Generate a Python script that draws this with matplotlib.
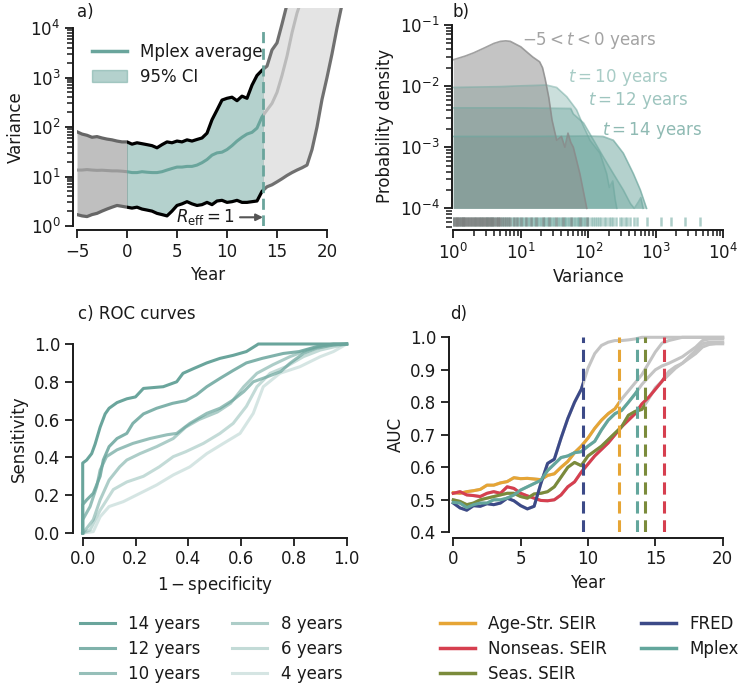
import numpy as np
import matplotlib.pyplot as plt
import matplotlib.transforms as mtransforms
from matplotlib.lines import Line2D
from matplotlib.patches import Patch, Rectangle

plt.rcParams['font.family'] = ['DejaVu Sans']
plt.rcParams['font.size'] = 12
plt.rcParams['text.color'] = '#1a1a1a'
plt.rcParams['axes.labelcolor'] = '#1a1a1a'
plt.rcParams['xtick.color'] = '#1a1a1a'
plt.rcParams['ytick.color'] = '#1a1a1a'

TEAL = '#6aa59c'
INK = '#1a1a1a'

# ---- a) variance through time ----
var_years = [-5, -4.5, -4, -3.5, -3, -2.5, -2, -1.5, -1, -0.5, 0, 0.5, 1, 1.5, 2, 2.5,
             3, 3.5, 4, 4.5, 5, 5.5, 6, 6.5, 7, 7.5, 8, 8.5, 9, 9.5, 10, 10.5, 11, 11.5,
             12, 12.5, 13, 13.5, 14, 14.5, 15, 15.5, 16, 16.5, 17, 17.5, 18, 18.5, 19,
             19.5, 20, 20.5, 21, 21.5]
var_upper = [80, 72, 68, 62, 64, 60, 57, 55, 52, 50, 50, 45, 48, 46, 44, 42,
             38, 44, 50, 48, 52, 50, 55, 52, 56, 60, 75, 140, 220, 350, 380, 400, 340, 420,
             380, 700, 1100, 1400, 1700, 3600, 5000, 12000, 3e4, 6e4, 1e5, 2e5, 3e5, 5e5, 8e5,
             1e6, 1.5e6, 2e6, 3e6, 4e6]
var_mean = [13.5, 13.5, 13.8, 13.5, 13.3, 13.4, 13.2, 13.0, 13.0, 12.8, 12.5, 12.0, 12.0, 12.5, 12.2, 12.0,
            12.0, 12.5, 13.5, 14.5, 15.5, 15.5, 16, 16, 17, 19, 22, 27, 30, 31, 35, 42, 52, 62,
            72, 78, 95, 160, 220, 300, 500, 1100, 2700, 8000, 2e4, 4e4, 8e4, 1.5e5, 3e5,
            5e5, 8e5, 1e6, 1.5e6, 2e6]
var_lower = [1.7, 1.6, 1.55, 1.7, 1.8, 2.0, 2.2, 2.4, 2.6, 2.5, 2.4, 2.3, 2.4, 2.2, 2.1, 2.0,
             1.8, 1.7, 1.6, 2.0, 2.6, 2.8, 3.1, 2.8, 2.6, 2.7, 3.0, 2.7, 3.2, 3.3, 3.0, 3.1, 3.3, 3.0,
             3.0, 3.1, 3.2, 5.0, 6.2, 6.8, 7.8, 9.0, 10.5, 12, 13.5, 15, 17, 35, 100,
             360, 1000, 3000, 10000, 3e4]
t_start = 0
t_reff = 13.6

# ---- b) distributions of variance ----
kde_pre_x = [1, 1.5, 2, 3, 4, 5, 6, 7, 8, 10, 12, 15, 19, 21, 23, 26, 29, 34, 40, 45, 50, 55, 60, 75, 95]
kde_pre_y = [0.027, 0.031, 0.035, 0.043, 0.05, 0.054, 0.055, 0.054, 0.05, 0.044, 0.037, 0.030, 0.025,
             0.02, 0.013, 0.0065, 0.0028, 0.0013, 0.0015, 0.001, 0.0017, 0.0012, 0.001, 0.00037, 0.0001]
kde10_x = [1, 5, 10, 24, 34, 48, 67, 85, 106, 149, 187, 205, 230, 250, 265]
kde10_y = [0.0095, 0.0098, 0.0101, 0.0104, 0.0095, 0.0067, 0.0041, 0.0022, 0.0013, 0.0008, 0.00037,
           0.00022, 0.00028, 0.00014, 0.0001]
kde12_x = [1, 10, 55, 60, 85, 120, 166, 235, 330, 420, 480, 560, 600, 650]
kde12_y = [0.0044, 0.0044, 0.0043, 0.0035, 0.0025, 0.0013, 0.0007, 0.00037, 0.0002, 0.00012, 0.0001,
           0.00013, 0.00015, 0.0001]
kde14_x = [1, 10, 100, 165, 235, 330, 465, 590, 730]
kde14_y = [0.0015, 0.0015, 0.00152, 0.0015, 0.0013, 0.0008, 0.00037, 0.0002, 0.0001]
rug_pre = [1.0, 1.03, 1.06, 1.09, 1.12, 1.15, 1.18, 1.21, 1.25, 1.29, 1.33, 1.37, 1.41, 1.45, 1.5,
           1.55, 1.6, 1.65, 1.7, 1.76, 1.82, 1.88, 1.94, 2.0, 2.07, 2.14, 2.21, 2.29, 2.37, 2.45, 2.54,
           2.63, 2.72, 2.82, 2.92, 3.03, 3.14, 3.26, 3.38, 3.5, 3.63, 3.77, 3.91, 4.06, 4.22, 4.4,
           4.6, 4.8, 5.0, 5.3, 5.6, 6.0, 6.5, 7.0, 7.8, 8.8, 10, 12, 14, 17, 21, 26, 33, 42, 55, 75, 95]
rug_post = [1.0, 1.1, 1.2, 1.3, 1.4, 1.5, 1.65, 1.8, 2.0, 2.2, 2.4, 2.6, 2.8, 3.0, 3.2, 3.4, 3.6,
            3.8, 4.0, 4.3, 4.6, 4.9, 5.2, 5.5, 5.8, 6.1, 6.4, 6.8, 7.2, 7.6, 8.0, 8.4, 8.8, 9.3, 9.8,
            10.3, 10.8, 11.4, 12, 12.6, 13.3, 14, 14.7, 15.5, 16.3, 17.2, 18.1, 19, 20, 21, 22, 23.2,
            24.4, 25.7, 27, 28.4, 30, 31.5, 33, 35, 37, 39, 41, 43, 45, 47.5, 50, 52.5, 55, 58, 61,
            64, 67, 70, 74, 78, 82, 86, 90, 95, 100, 110, 118, 126, 134, 145, 156, 170, 185, 200, 215,
            235, 255, 295, 320, 350, 380, 420, 470, 525, 750, 1200, 1700, 2700, 4500]

# ---- c) ROC curves ----
roc_labels = ['14 years', '12 years', '10 years', '8 years', '6 years', '4 years']
roc_alpha = [1.0, 0.85, 0.7, 0.55, 0.4, 0.28]
roc_fpr = [
    [0, 0, 0.015, 0.034, 0.047, 0.066, 0.085, 0.10, 0.13, 0.167, 0.20, 0.23, 0.305, 0.356, 0.38,
     0.42, 0.47, 0.52, 0.57, 0.62, 0.66, 0.665, 1.0],
    [0, 0, 0.015, 0.04, 0.066, 0.078, 0.10, 0.13, 0.167, 0.19, 0.23, 0.28, 0.34, 0.39, 0.43, 0.47,
     0.52, 0.57, 0.62, 0.68, 0.76, 0.82, 0.886, 0.95, 1.0],
    [0, 0, 0.028, 0.053, 0.066, 0.09, 0.13, 0.19, 0.255, 0.32, 0.356, 0.406, 0.47, 0.52, 0.57, 0.61,
     0.646, 0.70, 0.75, 0.785, 0.836, 0.886, 0.95, 1.0],
    [0, 0.01, 0.04, 0.066, 0.10, 0.14, 0.167, 0.217, 0.28, 0.343, 0.39, 0.44, 0.51, 0.56, 0.61, 0.66,
     0.72, 0.785, 0.85, 0.91, 1.0],
    [0, 0.028, 0.066, 0.116, 0.167, 0.23, 0.29, 0.343, 0.39, 0.457, 0.52, 0.57, 0.62, 0.66, 0.71,
     0.77, 0.836, 0.90, 1.0],
    [0, 0.04, 0.066, 0.10, 0.154, 0.217, 0.28, 0.343, 0.406, 0.47, 0.533, 0.596, 0.646, 0.684, 0.747,
     0.823, 0.90, 0.95, 1.0],
]
roc_tpr = [
    [0, 0.37, 0.386, 0.42, 0.47, 0.56, 0.63, 0.66, 0.69, 0.71, 0.72, 0.765, 0.774, 0.80, 0.845,
     0.87, 0.90, 0.924, 0.94, 0.96, 0.995, 1.0, 1.0],
    [0, 0.15, 0.175, 0.21, 0.30, 0.386, 0.457, 0.50, 0.527, 0.58, 0.63, 0.66, 0.686, 0.70, 0.73, 0.774,
     0.818, 0.86, 0.90, 0.924, 0.95, 0.96, 0.986, 1.0, 1.0],
    [0, 0.07, 0.14, 0.245, 0.333, 0.404, 0.44, 0.474, 0.50, 0.52, 0.527, 0.58, 0.633, 0.66, 0.704, 0.748,
     0.80, 0.827, 0.854, 0.898, 0.95, 0.977, 0.995, 1.0],
    [0, 0.016, 0.07, 0.175, 0.28, 0.35, 0.386, 0.42, 0.457, 0.50, 0.56, 0.60, 0.64, 0.686, 0.774, 0.845,
     0.89, 0.933, 0.968, 0.99, 1.0],
    [0, 0.016, 0.12, 0.23, 0.27, 0.30, 0.35, 0.404, 0.43, 0.474, 0.527, 0.58, 0.67, 0.774, 0.845,
     0.88, 0.933, 0.968, 1.0],
    [0, 0.007, 0.086, 0.14, 0.166, 0.21, 0.254, 0.307, 0.35, 0.42, 0.474, 0.527, 0.633, 0.774, 0.845,
     0.88, 0.933, 0.96, 1.0],
]

# ---- d) AUC through time ----
auc_years = np.arange(0, 20.01, 0.5)
models = ['Age-Str. SEIR', 'Nonseas. SEIR', 'Seas. SEIR', 'FRED', 'Mplex']
model_colors = ['#e6a535', '#d63f4f', '#7b8b3b', '#3c4a88', '#63a69c']
detect_year = [12.27, 15.61, 14.25, 9.6, 13.63]
auc = [
    [0.522, 0.52, 0.525, 0.528, 0.532, 0.545, 0.545, 0.552, 0.556, 0.568, 0.565, 0.566, 0.564, 0.562,
     0.575, 0.58, 0.60, 0.618, 0.645, 0.665, 0.69, 0.72, 0.745, 0.765, 0.78, 0.81, 0.835, 0.86, 0.885,
     0.92, 0.955, 0.982, 0.99, 0.995, 1.0, 1.0, 1.0, 1.0, 1.0, 1.0, 1.0],
    [0.52, 0.525, 0.515, 0.513, 0.51, 0.52, 0.525, 0.52, 0.54, 0.535, 0.52, 0.512, 0.505, 0.498, 0.497,
     0.50, 0.515, 0.54, 0.555, 0.585, 0.61, 0.635, 0.655, 0.675, 0.70, 0.725, 0.745, 0.765, 0.795,
     0.815, 0.84, 0.865, 0.895, 0.91, 0.92, 0.94, 0.96, 0.98, 0.985, 0.985, 0.985],
    [0.50, 0.495, 0.485, 0.49, 0.50, 0.505, 0.51, 0.515, 0.52, 0.52, 0.51, 0.505, 0.518, 0.52, 0.525,
     0.54, 0.57, 0.60, 0.615, 0.605, 0.635, 0.65, 0.665, 0.685, 0.705, 0.725, 0.76, 0.772, 0.778,
     0.81, 0.845, 0.865, 0.885, 0.905, 0.92, 0.935, 0.95, 0.97, 0.978, 0.98, 0.98],
    [0.49, 0.475, 0.468, 0.482, 0.48, 0.488, 0.485, 0.49, 0.505, 0.497, 0.482, 0.472, 0.48, 0.55,
     0.612, 0.625, 0.69, 0.75, 0.80, 0.84, 0.905, 0.95, 0.975, 0.985, 0.99, 0.99, 0.992, 0.995, 1.0,
     1.0, 1.0, 1.0, 1.0, 1.0, 1.0, 1.0, 1.0, 1.0, 1.0, 1.0, 1.0],
    [0.492, 0.49, 0.476, 0.485, 0.49, 0.49, 0.50, 0.50, 0.505, 0.515, 0.53, 0.54, 0.55, 0.56, 0.59,
     0.61, 0.63, 0.635, 0.645, 0.648, 0.665, 0.68, 0.715, 0.745, 0.765, 0.775, 0.80, 0.826, 0.855,
     0.878, 0.90, 0.912, 0.92, 0.93, 0.94, 0.955, 0.97, 0.99, 0.995, 0.995, 0.995],
]

W, H = 738, 685
fig = plt.figure(figsize=(W / 100, H / 100), dpi=100)


def px_axes(l, t, r, b):
    return fig.add_axes([l / W, 1 - b / H, (r - l) / W, (b - t) / H])


def style(ax, left_off, bottom_off, xb, yb):
    for s in ['top', 'right']:
        ax.spines[s].set_visible(False)
    ax.spines['left'].set_position(('outward', left_off))
    ax.spines['bottom'].set_position(('outward', bottom_off))
    ax.spines['left'].set_bounds(*yb)
    ax.spines['bottom'].set_bounds(*xb)
    for s in ['left', 'bottom']:
        ax.spines[s].set_linewidth(1.4)
        ax.spines[s].set_color(INK)
    ax.tick_params(which='major', length=5.5, width=1.3, color=INK)


def log_ticks(axis, lo_exp, hi_exp, vmin, vmax):
    # decade ticks get a label, the 2..9 ones stay short and unlabelled
    locs, labels = [], []
    for e in range(lo_exp - 1, hi_exp + 1):
        for m in range(1, 10):
            v = m * 10.0 ** e
            if vmin <= v <= vmax * 1.0001:
                locs.append(v)
                labels.append(r'$\mathdefault{10^{%d}}$' % e if m == 1 else '')
    axis.set_ticks(locs, labels)
    return labels


def shorten_minor(axis, labels):
    for tick, lab in zip(axis.get_major_ticks(len(labels)), labels):
        if lab == '':
            tick.tick1line.set_markersize(4)
            tick.tick1line.set_markeredgewidth(1.1)


def clip_x(ax, artist, x0, x1):
    tr = mtransforms.blended_transform_factory(ax.transData, ax.transAxes)
    rect = Rectangle((x0, -0.1), x1 - x0, 1.2, transform=tr, facecolor='none', edgecolor='none')
    artist.set_clip_path(rect)


# panel a
axa = px_axes(77, 28, 339, 226)
axa.set_yscale('log')
axa.set_xlim(-5, 21.2)
axa.set_ylim(1, 1e4)
segments = [(-5, t_start, '#8c8c8c', 0.55, '#666666', '#9a9a9a'),
            (t_start, t_reff, TEAL, 0.5, 'black', TEAL),
            (t_reff, 30, '#bdbdbd', 0.4, '#707070', '#bbbbbb')]
for x0, x1, fc, fa, bc, mc in segments:
    f = axa.fill_between(var_years, var_lower, var_upper, color=fc, alpha=fa, lw=0)
    clip_x(axa, f, x0, x1)
    for series in (var_upper, var_lower):
        ln, = axa.plot(var_years, series, color=bc, lw=2.3)
        clip_x(axa, ln, x0, x1)
    ln, = axa.plot(var_years, var_mean, color=mc, lw=2.2)
    clip_x(axa, ln, x0, x1)
axa.axvline(t_reff, color=TEAL, lw=2, ls=(0, (4, 2)))
axa.annotate(r'$R_{\mathrm{eff}} = 1$', xy=(t_reff, 1.5), xytext=(7.8, 1.5), ha='center', va='center',
             arrowprops=dict(arrowstyle='-|>', color='#555555', lw=1.5, mutation_scale=10, shrinkA=2, shrinkB=0))
axa.set_xticks([-5, 0, 5, 10, 15, 20])
a_labels = log_ticks(axa.yaxis, 0, 4, 1, 1e4)
axa.set_ylim(1, 1e4)
axa.set_xlabel('Year')
axa.set_ylabel('Variance')
style(axa, 2.9, 2.9, (-5, 20), (1, 1e4))
shorten_minor(axa.yaxis, a_labels)
axa.legend(handles=[Line2D([0], [0], color=TEAL, lw=2.5),
                    Patch(facecolor=TEAL, alpha=0.5, edgecolor=TEAL)],
           labels=['Mplex average', '95% CI'], loc='upper left', frameon=False,
           handlelength=2.1, handletextpad=0.8, labelspacing=0.4)

# panel b
axb = px_axes(453.3, 25, 723.3, 227.8)
axb.set_xscale('log')
axb.set_yscale('log')
axb.set_xlim(1, 1e4)
axb.set_ylim(4.8e-5, 0.1)
for kx, ky, a in [(kde10_x, kde10_y, 0.35), (kde12_x, kde12_y, 0.4), (kde14_x, kde14_y, 0.5)]:
    axb.fill_between(kx, ky, 1e-4, color=TEAL, alpha=a, lw=0)
    axb.plot(kx, ky, color=TEAL, alpha=min(1, a + 0.15), lw=1.2)
axb.fill_between(kde_pre_x, kde_pre_y, 1e-4, color='#8a8a8a', alpha=0.5, lw=0)
axb.plot(kde_pre_x, kde_pre_y, color='#8a8a8a', alpha=0.8, lw=1.2)
axb.vlines(rug_post, 5.1e-5, 7.2e-5, color=TEAL, alpha=0.55, lw=1.8)
axb.vlines(rug_pre, 5.1e-5, 7.2e-5, color='#7a7a7a', alpha=0.55, lw=1.8)
axb.text(10.3, 0.055, r'$-5 < t < 0$ years', color='#a3a3a3', va='center', ha='left')
axb.text(50, 0.014, r'$t = 10$ years', color='#a8ccc6', va='center', ha='left')
axb.text(100, 0.0059, r'$t = 12$ years', color='#9ec5bf', va='center', ha='left')
axb.text(158, 0.0019, r'$t = 14$ years', color='#8fbab3', va='center', ha='left')
bx_labels = log_ticks(axb.xaxis, 0, 4, 1, 1e4)
by_labels = log_ticks(axb.yaxis, -4, -1, 4.8e-5, 0.1)
axb.set_xlim(1, 1e4)
axb.set_ylim(4.8e-5, 0.1)
axb.set_xlabel('Variance')
axb.set_ylabel('Probability density')
style(axb, 1, 1.6, (1, 1e4), (1e-4, 0.1))
shorten_minor(axb.xaxis, bx_labels)
shorten_minor(axb.yaxis, by_labels)

# panel c
axc = px_axes(82.7, 344, 346.7, 533)
axc.set_xlim(0, 1)
axc.set_ylim(0, 1)
for fpr, tpr, a, lab in zip(roc_fpr, roc_tpr, roc_alpha, roc_labels):
    axc.plot(fpr, tpr, color=TEAL, alpha=a, lw=2.2, label=lab, clip_on=False)
axc.set_xticks(np.arange(0, 1.01, 0.2))
axc.set_yticks(np.arange(0, 1.01, 0.2))
axc.set_xticklabels(['0.0', '0.2', '0.4', '0.6', '0.8', '1.0'])
axc.set_yticklabels(['0.0', '0.2', '0.4', '0.6', '0.8', '1.0'])
axc.set_xlabel(r'$1 - $specificity')
axc.set_ylabel('Sensitivity')
style(axc, 7.2, 3.6, (0, 1), (0, 1))
axc.legend(loc='upper left', bbox_to_anchor=(80 / W, 1 - 615 / H), bbox_transform=fig.transFigure,
           ncol=2, frameon=False, borderpad=0, borderaxespad=0, handlelength=2.1,
           handletextpad=0.8, columnspacing=1.9, labelspacing=0.42)

# panel d
axd = px_axes(453.3, 337.3, 722.7, 532.3)
axd.set_xlim(0, 20)
axd.set_ylim(0.4, 1.0)
for vals in auc:
    axd.plot(auc_years, vals, color='#c4c4c4', lw=2.2, clip_on=False)
for vals, c, td in zip(auc, model_colors, detect_year):
    ln, = axd.plot(auc_years, vals, color=c, lw=2.2)
    clip_x(axd, ln, -1, td)
for c, td in zip(model_colors, detect_year):
    axd.axvline(td, color=c, lw=2.2, ls=(0, (4, 2.2)))
axd.set_xticks([0, 5, 10, 15, 20])
axd.set_yticks(np.arange(0.4, 1.01, 0.1))
axd.set_yticklabels(['0.4', '0.5', '0.6', '0.7', '0.8', '0.9', '1.0'])
axd.set_xlabel('Year')
axd.set_ylabel('AUC')
style(axd, 3.1, 4.1, (0, 20), (0.4, 1.0))
axd.legend(handles=[Line2D([0], [0], color=c, lw=2.5) for c in model_colors], labels=models,
           loc='upper left', bbox_to_anchor=(440 / W, 1 - 615 / H), bbox_transform=fig.transFigure,
           ncol=2, frameon=False, borderpad=0, borderaxespad=0, handlelength=2.1,
           handletextpad=0.8, columnspacing=2.0, labelspacing=0.42)

# panel titles
fig.text(77 / W, 1 - 12 / H, 'a)', va='center', ha='left')
fig.text(452 / W, 1 - 12 / H, 'b)', va='center', ha='left')
fig.text(78 / W, 1 - 314 / H, 'c) ROC curves', va='center', ha='left')
fig.text(450 / W, 1 - 314 / H, 'd)', va='center', ha='left')

fig.savefig('out.png', dpi=100)
